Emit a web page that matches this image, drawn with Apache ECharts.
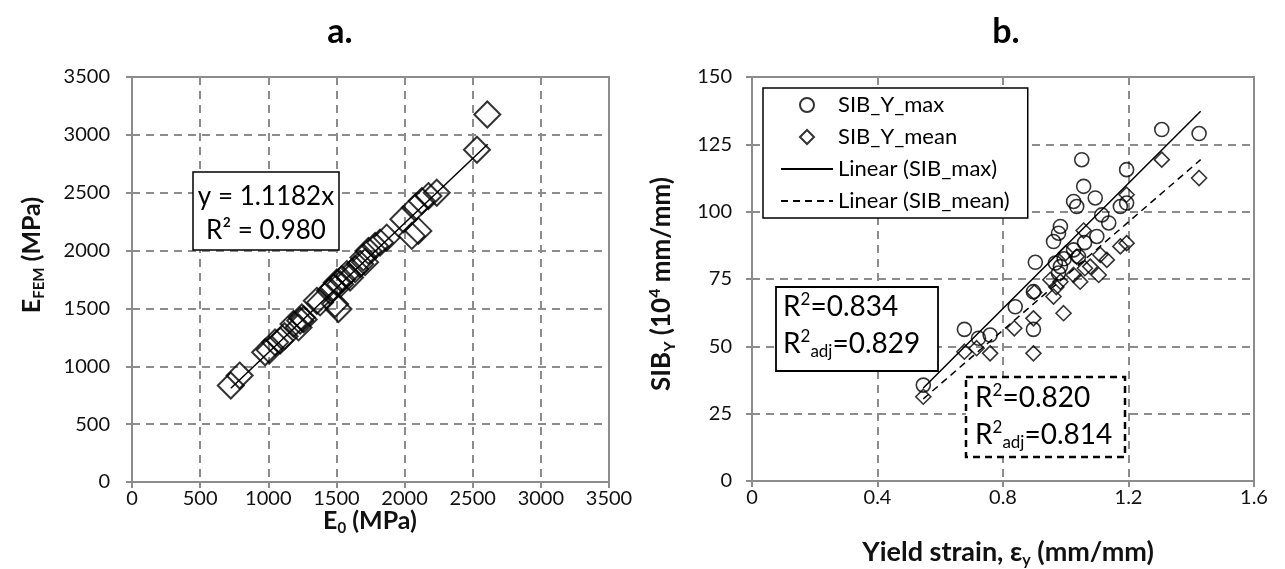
<!DOCTYPE html>
<html>
<head>
<meta charset="utf-8">
<script src="https://cdn.jsdelivr.net/npm/echarts@6/dist/echarts.min.js"></script>
<style>
html,body{margin:0;padding:0;background:#fff;}
#chart{width:1285px;height:569px;}
</style>
</head>
<body>
<div id="chart"></div>
<script>
// ---- Panel a: E0 vs EFEM (MPa) ----
const e0 = [725, 790, 977, 1010, 1050, 1087, 1120, 1185, 1222, 1234, 1246, 1260, 1356, 1380, 1453, 1478, 1490, 1503, 1515, 1527, 1540, 1576, 1600, 1637, 1674, 1698, 1710, 1735, 1784, 1820, 1869, 1991, 2053, 2101, 2077, 2126, 2175, 2236, 2531, 2607];
const eFem = [834, 920, 1121, 1140, 1207, 1222, 1260, 1366, 1336, 1394, 1422, 1405, 1566, 1552, 1653, 1681, 1538, 1724, 1495, 1710, 1753, 1797, 1767, 1840, 1883, 1940, 1900, 1997, 2040, 2069, 2112, 2271, 2127, 2170, 2371, 2428, 2471, 2500, 2871, 3176];
const trendASlope = 1.1182;               // fitted y = 1.1182x
const trendAX = [725, 2610];               // extent of the trend line
const ticksA = [0, 500, 1000, 1500, 2000, 2500, 3000, 3500];

// ---- Panel b: yield strain vs SIB_Y ----
const maxStrain = [0.546, 0.677, 0.722, 0.759, 0.839, 0.897, 0.897, 0.903, 0.961, 0.977, 0.983, 0.967, 0.983, 0.977, 0.995, 1.025, 1.041, 1.051, 1.057, 1.025, 1.035, 1.094, 1.099, 1.060, 1.115, 1.137, 1.174, 1.194, 1.194, 1.306, 1.425];
const maxSIB    = [35.6, 56.3, 53.0, 54.2, 64.7, 56.3, 70.3, 81.2, 88.9, 92.0, 94.5, 80.9, 79.6, 77.2, 82.5, 85.8, 83.3, 119.3, 109.4, 103.8, 101.9, 105.1, 90.8, 88.5, 98.8, 95.8, 101.9, 103.2, 115.6, 130.5, 129.0];
const meanStrain = [0.546, 0.677, 0.716, 0.759, 0.836, 0.897, 0.897, 0.900, 0.961, 0.993, 0.951, 0.983, 0.970, 1.000, 1.025, 1.035, 1.046, 1.057, 1.078, 1.105, 1.110, 1.131, 1.174, 1.194, 1.194, 1.306, 1.425, 1.061];
const meanSIB    = [31.3, 48.0, 49.3, 47.4, 56.7, 60.4, 47.4, 70.0, 68.5, 62.3, 74.7, 74.0, 72.0, 84.6, 76.5, 83.3, 74.0, 93.0, 79.6, 76.5, 84.0, 82.1, 87.1, 88.3, 106.3, 119.3, 112.5, 79.0];
const trendMaxPts  = [[0.546, 34.5], [1.43, 137.3]];
const trendMeanPts = [[0.546, 30.5], [1.43, 119.3]];
const ticksBX = [0, 0.4, 0.8, 1.2, 1.6];
const ticksBY = [0, 25, 50, 75, 100, 125, 150];

const FF = 'Lato, "Liberation Sans", sans-serif';
const GRID_C = '#8c8c8c';

const zip = (a, b) => a.map((v, i) => [v, b[i]]);

const chart = echarts.init(document.getElementById('chart'), null, {renderer: 'canvas'});

function axisCommon(min, max, interval, margin) {
  return {
    type: 'value', min: min, max: max, interval: interval,
    axisLine: {show: true, lineStyle: {color: GRID_C, width: 2}},
    axisTick: {show: true, inside: false, length: 6, lineStyle: {color: GRID_C, width: 2}},
    axisLabel: {color: '#111', fontFamily: FF, fontSize: 20, margin: margin, formatter: v => String(v)},
    splitLine: {show: true, lineStyle: {color: GRID_C, width: 2, type: [8, 6]}}
  };
}

const xa = axisCommon(ticksA[0], ticksA[ticksA.length - 1], ticksA[1] - ticksA[0], 7);
xa.gridIndex = 0;
const ya = axisCommon(ticksA[0], ticksA[ticksA.length - 1], ticksA[1] - ticksA[0], 22);
ya.gridIndex = 0;
const xb = axisCommon(ticksBX[0], ticksBX[ticksBX.length - 1], 0.4, 7);
xb.gridIndex = 1;
xb.axisLabel.formatter = v => (v === 0 ? '0' : v.toFixed(1));
const yb = axisCommon(ticksBY[0], ticksBY[ticksBY.length - 1], 25, 20);
yb.gridIndex = 1;

function richTitle(size) {
  const sub = Math.round(size * 0.6);
  return {
    b: {fontFamily: FF, fontWeight: 'bold', fontSize: size, lineHeight: size + 5, fill: '#111', color: '#111'},
    s: {fontFamily: FF, fontWeight: 'bold', fontSize: sub, lineHeight: 10, verticalAlign: 'bottom', fill: '#111', color: '#111'},
    p: {fontFamily: FF, fontWeight: 'bold', fontSize: sub, lineHeight: 22, verticalAlign: 'top', fill: '#111', color: '#111'}
  };
}
function richBox(size) {
  return {
    n: {fontFamily: FF, fontSize: size, lineHeight: size + 4, fill: '#000', color: '#000'},
    p: {fontFamily: FF, fontSize: Math.round(size * 0.6), lineHeight: size - 5, verticalAlign: 'top', fill: '#000', color: '#000'},
    s: {fontFamily: FF, fontSize: Math.round(size * 0.6), lineHeight: 10, verticalAlign: 'bottom', fill: '#000', color: '#000'}
  };
}

function txt(x, y, text, rich, opts) {
  opts = opts || {};
  return {
    type: 'text', x: x, y: y, z: 200, rotation: opts.rotation || 0,
    style: {
      text: text, rich: rich, fill: '#000',
      font: '20px ' + FF,
      textAlign: opts.align || 'center', align: opts.align || 'center',
      textVerticalAlign: 'middle', verticalAlign: 'middle'
    }
  };
}

const option = {
  backgroundColor: '#fff',
  animation: false,
  grid: [
    {left: 132, top: 77, width: 477, height: 405, show: true, borderColor: GRID_C, borderWidth: 2, backgroundColor: 'transparent', containLabel: false, outerBoundsMode: 'none'},
    {left: 752, top: 77, width: 502, height: 404, show: true, borderColor: GRID_C, borderWidth: 2, backgroundColor: 'transparent', containLabel: false, outerBoundsMode: 'none'}
  ],
  xAxis: [xa, xb],
  yAxis: [ya, yb],
  legend: {
    show: true, orient: 'vertical', left: 763, top: 88,
    data: [
      {name: 'SIB_Y_max', icon: 'circle'},
      {name: 'SIB_Y_mean', icon: 'path://M0,7M52,7M19,7L26,0L33,7L26,14Z'},
      'Linear (SIB_max)',
      'Linear (SIB_mean)'
    ],
    symbolKeepAspect: true,
    backgroundColor: '#fff', borderColor: '#000', borderWidth: 1.5, borderRadius: 0,
    padding: [5, 18, 5, 17],
    itemWidth: 52, itemHeight: 14, itemGap: 8,
    textStyle: {fontFamily: FF, fontSize: 22, lineHeight: 24, color: '#000'},
    selectedMode: false
  },
  series: [
    {
      type: 'scatter', name: 'E', xAxisIndex: 0, yAxisIndex: 0,
      data: zip(e0, eFem), symbol: 'diamond', symbolSize: 26,
      itemStyle: {color: 'rgba(0,0,0,0)', borderColor: '#000', borderWidth: 2}, z: 3
    },
    {
      type: 'line', name: 'trendA', xAxisIndex: 0, yAxisIndex: 0,
      data: trendAX.map(x => [x, x * trendASlope]),
      symbol: 'none', lineStyle: {color: '#000', width: 1.5}, z: 4, silent: true
    },
    {
      type: 'scatter', name: 'SIB_Y_max', xAxisIndex: 1, yAxisIndex: 1,
      data: zip(maxStrain, maxSIB), symbol: 'circle', symbolSize: 14,
      itemStyle: {color: 'rgba(0,0,0,0)', borderColor: '#000', borderWidth: 1.6}, z: 3
    },
    {
      type: 'scatter', name: 'SIB_Y_mean', xAxisIndex: 1, yAxisIndex: 1,
      data: zip(meanStrain, meanSIB), symbol: 'diamond', symbolSize: 15,
      itemStyle: {color: 'rgba(0,0,0,0)', borderColor: '#000', borderWidth: 1.6}, z: 3
    },
    {
      type: 'line', name: 'Linear (SIB_max)', xAxisIndex: 1, yAxisIndex: 1,
      data: trendMaxPts, symbol: 'none',
      itemStyle: {color: 'rgba(0,0,0,0)', borderWidth: 0},
      lineStyle: {color: '#000', width: 1.5}, z: 4
    },
    {
      type: 'line', name: 'Linear (SIB_mean)', xAxisIndex: 1, yAxisIndex: 1,
      data: trendMeanPts, symbol: 'none',
      itemStyle: {color: 'rgba(0,0,0,0)', borderWidth: 0},
      lineStyle: {color: '#000', width: 1.5, type: [7, 5]}, z: 4
    }
  ],
  graphic: {
    elements: [
      // titles
      {type: 'text', x: 340, y: 32, z: 200, style: {text: 'a.', font: 'bold 34px ' + FF, fill: '#000', textAlign: 'center', align: 'center', textVerticalAlign: 'middle', verticalAlign: 'middle'}},
      {type: 'text', x: 1006, y: 32, z: 200, style: {text: 'b.', font: 'bold 34px ' + FF, fill: '#000', textAlign: 'center', align: 'center', textVerticalAlign: 'middle', verticalAlign: 'middle'}},
      // axis names
      txt(32, 255, '{b|E}{s|FEM}{b| (MPa)}', richTitle(25), {rotation: Math.PI / 2}),
      txt(370, 521, '{b|E}{s|0}{b| (MPa)}', richTitle(25)),
      txt(662, 284, '{b|SIB}{s|Y}{b| (10}{p|4}{b| mm/mm)}', richTitle(26), {rotation: Math.PI / 2}),
      txt(1008, 552, '{b|Yield strain, ε}{s|y}{b| (mm/mm)}', richTitle(27)),
      // panel a annotation box
      {type: 'rect', z: 150, shape: {x: 193, y: 172, width: 146, height: 78}, style: {fill: '#fff', stroke: '#000', lineWidth: 1.5}},
      txt(266, 197, '{n|y = 1.1182x}', richBox(26)),
      txt(266, 231, '{n|R² = 0.980}', richBox(26)),
      // panel b annotation boxes
      {type: 'rect', z: 150, shape: {x: 776, y: 287, width: 162, height: 84}, style: {fill: '#fff', stroke: '#000', lineWidth: 1.8}},
      txt(783, 307, '{n|R}{p|2}{n|=0.834}', richBox(28), {align: 'left'}),
      txt(783, 344, '{n|R}{p|2}{s|adj}{n|=0.829}', richBox(28), {align: 'left'}),
      {type: 'rect', z: 150, shape: {x: 966, y: 377, width: 159, height: 80}, style: {fill: '#fff', stroke: '#000', lineWidth: 2.5, lineDash: [7, 5]}},
      txt(975, 398, '{n|R}{p|2}{n|=0.820}', richBox(28), {align: 'left'}),
      txt(975, 435, '{n|R}{p|2}{s|adj}{n|=0.814}', richBox(28), {align: 'left'})
    ]
  }
};

chart.setOption(option);
</script>
</body>
</html>
